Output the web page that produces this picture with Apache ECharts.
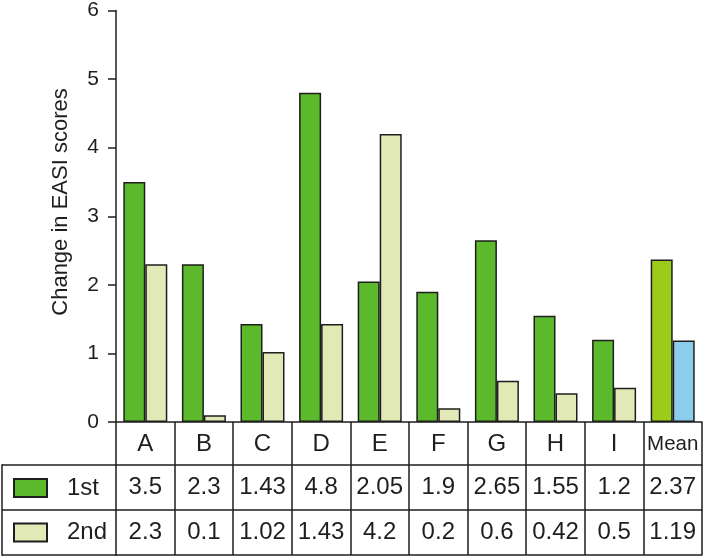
<!DOCTYPE html>
<html>
<head>
<meta charset="utf-8">
<script src="https://cdn.jsdelivr.net/npm/echarts@6/dist/echarts.min.js"></script>
<style>html,body{margin:0;padding:0;background:#fff}#c{width:703px;height:557px}</style>
</head>
<body>
<div id="c"></div>
<script>
var categories = ['A','B','C','D','E','F','G','H','I','Mean'];
var firstValues = [3.5, 2.3, 1.43, 4.8, 2.05, 1.9, 2.65, 1.55, 1.2, 2.37];
var secondValues = [2.3, 0.1, 1.02, 1.43, 4.2, 0.2, 0.6, 0.42, 0.5, 1.19];
var yTicks = [0, 1, 2, 3, 4, 5, 6];
var seriesNames = ['1st', '2nd'];

var FONT = "'Liberation Sans', Arial, sans-serif";
var INK = '#1e1e1e';
var GREEN = '#5cb92b', LIGHT = '#e1e9b6', MEAN1 = '#9ccb19', MEAN2 = '#8ccdee';

var chart = echarts.init(document.getElementById('c'), null, {renderer:'canvas'});

function makeBarData(vals, meanColor) {
  return vals.map(function (v, i) {
    if (categories[i] === 'Mean') return {value: v, itemStyle: {color: meanColor}};
    return v;
  });
}

function tableAxis(idx, offset, data, showTick) {
  return {
    type: 'category', gridIndex: 0, position: 'bottom', offset: offset,
    data: data,
    axisLine: {show: true, lineStyle: {color: INK, width: 1.5}},
    axisTick: {show: showTick, length: idx === 0 ? 43 : 45, inside: false, alignWithLabel: false,
               lineStyle: {color: INK, width: 1.5}},
    axisLabel: {show: showTick, margin: 22, verticalAlign: 'middle',
                fontSize: 24, color: INK, fontFamily: FONT, interval: 0},
    splitLine: {show: false}
  };
}

var catData = categories.map(function (c) {
  return c === 'Mean' ? {value: c, textStyle: {fontSize: 20.5, verticalAlign: 'middle'}} : c;
});

var option = {
  animation: false,
  backgroundColor: '#fff',
  textStyle: {fontFamily: FONT},
  grid: {left: 116, right: 1, top: 10, bottom: 135, containLabel: false},
  legend: {
    data: seriesNames, orient: 'vertical', left: 13, top: 476, height: 120, padding: 0,
    itemWidth: 33, itemHeight: 18, itemGap: 20.5, icon: 'rect',
    textStyle: {fontSize: 24, lineHeight: 24, color: INK, fontFamily: FONT, padding: [0, 0, 0, 15]},
    selectedMode: false
  },
  xAxis: [
    tableAxis(0, 0, catData, true),
    tableAxis(1, 43, firstValues.map(String), true),
    tableAxis(2, 88, secondValues.map(String), true),
    tableAxis(3, 133, categories, false)
  ],
  yAxis: {
    type: 'value', min: yTicks[0], max: yTicks[yTicks.length - 1], interval: 1,
    axisLine: {show: true, lineStyle: {color: INK, width: 1.5}},
    axisTick: {show: true, length: 8, inside: false, lineStyle: {color: INK, width: 1.5}},
    axisLabel: {fontSize: 21, color: INK, fontFamily: FONT, margin: 17},
    splitLine: {show: false}
  },
  graphic: [
    {type: 'text', x: 61, y: 202, rotation: Math.PI / 2,
     style: {text: 'Change in EASI scores', fontSize: 22, fontFamily: FONT, fill: INK,
             align: 'center', verticalAlign: 'middle'}},
    {type: 'line', shape: {x1: 2, y1: 465, x2: 117, y2: 465}, style: {stroke: INK, lineWidth: 1.5}},
    {type: 'line', shape: {x1: 2, y1: 510, x2: 117, y2: 510}, style: {stroke: INK, lineWidth: 1.5}},
    {type: 'line', shape: {x1: 2, y1: 555, x2: 117, y2: 555}, style: {stroke: INK, lineWidth: 1.5}},
    {type: 'line', shape: {x1: 2, y1: 464.25, x2: 2, y2: 555.75}, style: {stroke: INK, lineWidth: 1.5}}
  ],
  series: [
    {name: seriesNames[0], type: 'bar', xAxisIndex: 0, barWidth: 22, barGap: '0%',
     data: makeBarData(firstValues, MEAN1),
     itemStyle: {color: GREEN, borderColor: INK, borderWidth: 1.5}},
    {name: seriesNames[1], type: 'bar', xAxisIndex: 0, barWidth: 22, barGap: '0%',
     data: makeBarData(secondValues, MEAN2),
     itemStyle: {color: LIGHT, borderColor: INK, borderWidth: 1.5}}
  ]
};
chart.setOption(option);
</script>
</body>
</html>
